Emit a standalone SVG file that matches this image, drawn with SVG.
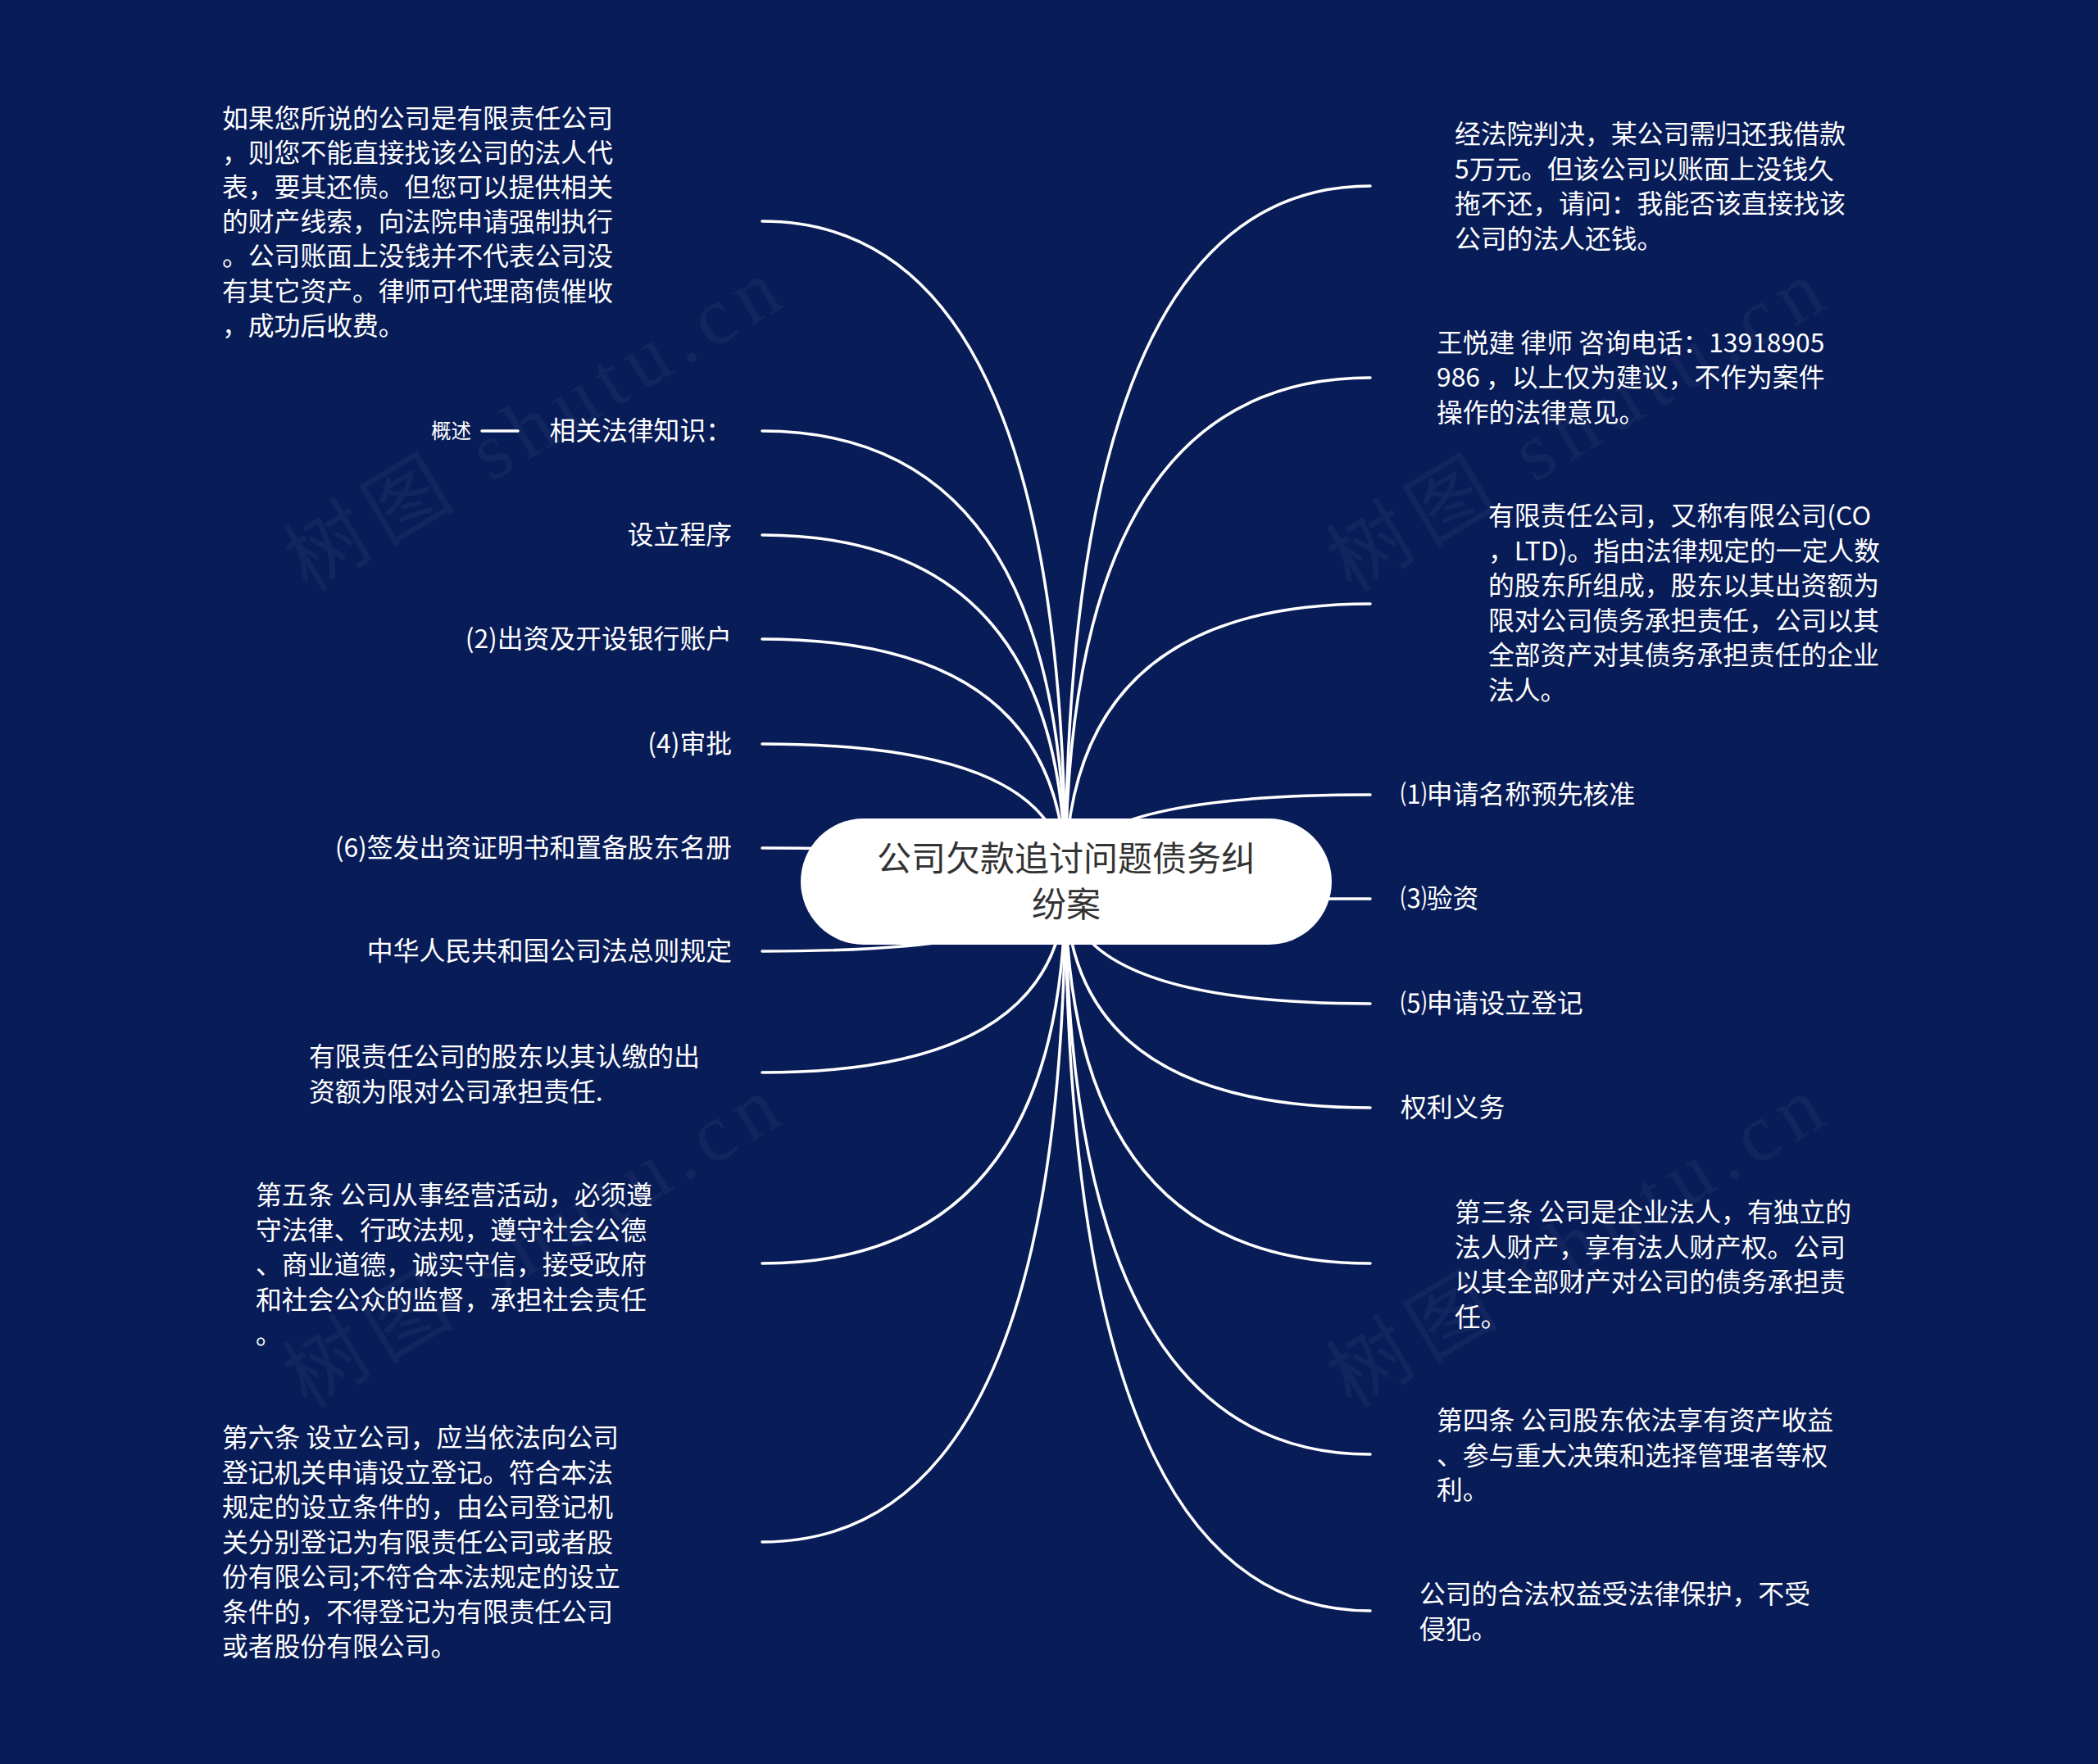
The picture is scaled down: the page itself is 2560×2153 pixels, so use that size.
<svg xmlns="http://www.w3.org/2000/svg" width="2560" height="2153" viewBox="0 0 2560 2153">
<defs>
<style>
.bg{fill:#081c58}
.wm{fill:#ffffff;fill-opacity:0.045;font-family:"Liberation Serif","Noto Sans CJK SC",serif;font-size:100px}
.link{fill:none;stroke:#ffffff;stroke-width:3.5;stroke-linecap:round}
.t{fill:#ffffff;font-family:"Noto Sans CJK SC","Liberation Sans",sans-serif;font-size:31.8px}
.end{text-anchor:end}
.small{font-size:24.5px}
.root-box{fill:#ffffff}
.root-t{fill:#333333;font-family:"Noto Sans CJK SC","Liberation Sans",sans-serif;font-size:42px;text-anchor:middle}
</style>
</defs>
<rect class="bg" x="0" y="0" width="2560" height="2153"/>
<g id="watermarks">
<text class="wm" x="649" y="553" text-anchor="middle" textLength="680" lengthAdjust="spacing" transform="rotate(-31 649 518)">树图 shutu.cn</text>
<text class="wm" x="1922" y="554" text-anchor="middle" textLength="680" lengthAdjust="spacing" transform="rotate(-31 1922 519)">树图 shutu.cn</text>
<text class="wm" x="648" y="1550" text-anchor="middle" textLength="680" lengthAdjust="spacing" transform="rotate(-31 648 1515)">树图 shutu.cn</text>
<text class="wm" x="1922" y="1550" text-anchor="middle" textLength="680" lengthAdjust="spacing" transform="rotate(-31 1922 1515)">树图 shutu.cn</text>
</g>
<g id="connectors">
<path class="link" d="M1300 1076 Q1300 270 930 270"/>
<path class="link" d="M1300 1076 Q1300 526 930 526"/>
<path class="link" d="M1300 1076 Q1300 653 930 653"/>
<path class="link" d="M1300 1076 Q1300 780 930 780"/>
<path class="link" d="M1300 1076 Q1300 908 930 908"/>
<path class="link" d="M1300 1076 Q1300 1035 930 1035"/>
<path class="link" d="M1300 1076 Q1300 1161 930 1161"/>
<path class="link" d="M1300 1076 Q1300 1309 930 1309"/>
<path class="link" d="M1300 1076 Q1300 1542 930 1542"/>
<path class="link" d="M1300 1076 Q1300 1882 930 1882"/>
<path class="link" d="M1300 1076 Q1300 227 1672 227"/>
<path class="link" d="M1300 1076 Q1300 461 1672 461"/>
<path class="link" d="M1300 1076 Q1300 737 1672 737"/>
<path class="link" d="M1300 1076 Q1300 970 1672 970"/>
<path class="link" d="M1300 1076 Q1300 1097 1672 1097"/>
<path class="link" d="M1300 1076 Q1300 1225 1672 1225"/>
<path class="link" d="M1300 1076 Q1300 1352 1672 1352"/>
<path class="link" d="M1300 1076 Q1300 1542 1672 1542"/>
<path class="link" d="M1300 1076 Q1300 1775 1672 1775"/>
<path class="link" d="M1300 1076 Q1300 1966 1672 1966"/>
<path class="link" d="M588 526 L632 526"/>
</g>
<g id="root">
<rect class="root-box" x="977" y="999" width="648" height="154" rx="77" ry="77"/>
<text class="root-t" x="1301" y="1063">公司欠款追讨问题债务纠</text>
<text class="root-t" x="1301" y="1119">纷案</text>
</g>
<g id="node-l1">
<text class="t" x="271" y="155.5">如果您所说的公司是有限责任公司</text>
<text class="t" x="271" y="197.7">，则您不能直接找该公司的法人代</text>
<text class="t" x="271" y="239.9">表，要其还债。但您可以提供相关</text>
<text class="t" x="271" y="282.1">的财产线索，向法院申请强制执行</text>
<text class="t" x="271" y="324.3">。公司账面上没钱并不代表公司没</text>
<text class="t" x="271" y="366.5">有其它资产。律师可代理商债催收</text>
<text class="t" x="271" y="408.7">，成功后收费。</text>
</g>
<g id="node-l2">
<text class="t end" x="893" y="537">相关法律知识：</text>
</g>
<g id="node-l2-sub">
<text class="t end small" x="575" y="534.5">概述</text>
</g>
<g id="node-l3">
<text class="t end" x="893" y="664">设立程序</text>
</g>
<g id="node-l4">
<text class="t end" x="893" y="791">(2)出资及开设银行账户</text>
</g>
<g id="node-l5">
<text class="t end" x="893" y="919">(4)审批</text>
</g>
<g id="node-l6">
<text class="t end" x="893" y="1046">(6)签发出资证明书和置备股东名册</text>
</g>
<g id="node-l7">
<text class="t end" x="893" y="1172">中华人民共和国公司法总则规定</text>
</g>
<g id="node-l8">
<text class="t" x="377" y="1301">有限责任公司的股东以其认缴的出</text>
<text class="t" x="377" y="1344">资额为限对公司承担责任.</text>
</g>
<g id="node-l9">
<text class="t" x="312" y="1470">第五条 公司从事经营活动，必须遵</text>
<text class="t" x="312" y="1512.5">守法律、行政法规，遵守社会公德</text>
<text class="t" x="312" y="1555">、商业道德，诚实守信，接受政府</text>
<text class="t" x="312" y="1597.5">和社会公众的监督，承担社会责任</text>
<text class="t" x="312" y="1640">。</text>
</g>
<g id="node-l10">
<text class="t" x="271" y="1766">第六条 设立公司，应当依法向公司</text>
<text class="t" x="271" y="1808.5">登记机关申请设立登记。符合本法</text>
<text class="t" x="271" y="1851">规定的设立条件的，由公司登记机</text>
<text class="t" x="271" y="1893.5">关分别登记为有限责任公司或者股</text>
<text class="t" x="271" y="1936">份有限公司;不符合本法规定的设立</text>
<text class="t" x="271" y="1978.5">条件的，不得登记为有限责任公司</text>
<text class="t" x="271" y="2021">或者股份有限公司。</text>
</g>
<g id="node-r1">
<text class="t" x="1775" y="175">经法院判决，某公司需归还我借款</text>
<text class="t" x="1775" y="217.5">5万元。但该公司以账面上没钱久</text>
<text class="t" x="1775" y="260">拖不还，请问：我能否该直接找该</text>
<text class="t" x="1775" y="302.5">公司的法人还钱。</text>
</g>
<g id="node-r2">
<text class="t" x="1753" y="429.5">王悦建 律师 咨询电话：13918905</text>
<text class="t" x="1753" y="472">986 ，以上仅为建议，不作为案件</text>
<text class="t" x="1753" y="514.5">操作的法律意见。</text>
</g>
<g id="node-r3">
<text class="t" x="1816" y="641">有限责任公司，又称有限公司(CO</text>
<text class="t" x="1816" y="683.5">，LTD)。指由法律规定的一定人数</text>
<text class="t" x="1816" y="726">的股东所组成，股东以其出资额为</text>
<text class="t" x="1816" y="768.5">限对公司债务承担责任，公司以其</text>
<text class="t" x="1816" y="811">全部资产对其债务承担责任的企业</text>
<text class="t" x="1816" y="853.5">法人。</text>
</g>
<g id="node-r4">
<text class="t" x="1709" y="981">⑴申请名称预先核准</text>
</g>
<g id="node-r5">
<text class="t" x="1709" y="1108">⑶验资</text>
</g>
<g id="node-r6">
<text class="t" x="1709" y="1236">⑸申请设立登记</text>
</g>
<g id="node-r7">
<text class="t" x="1709" y="1363">权利义务</text>
</g>
<g id="node-r8">
<text class="t" x="1775" y="1491">第三条 公司是企业法人，有独立的</text>
<text class="t" x="1775" y="1533.5">法人财产，享有法人财产权。公司</text>
<text class="t" x="1775" y="1576">以其全部财产对公司的债务承担责</text>
<text class="t" x="1775" y="1618.5">任。</text>
</g>
<g id="node-r9">
<text class="t" x="1753" y="1745">第四条 公司股东依法享有资产收益</text>
<text class="t" x="1753" y="1787.5">、参与重大决策和选择管理者等权</text>
<text class="t" x="1753" y="1830">利。</text>
</g>
<g id="node-r10">
<text class="t" x="1732" y="1957">公司的合法权益受法律保护，不受</text>
<text class="t" x="1732" y="1999.5">侵犯。</text>
</g>
</svg>
